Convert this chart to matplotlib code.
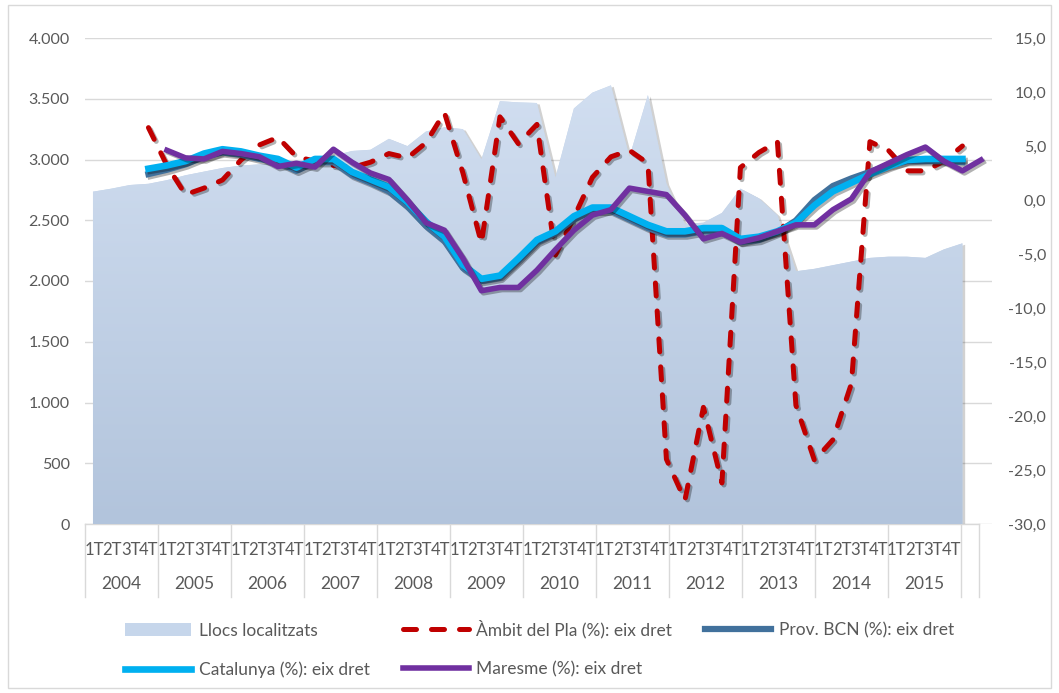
import numpy as np
import matplotlib.pyplot as plt
import matplotlib.patheffects as pe
from matplotlib.patches import Patch, Polygon, Rectangle
from matplotlib.lines import Line2D
from matplotlib.colors import LinearSegmentedColormap

plt.rcParams['font.family'] = ['Lato', 'DejaVu Sans']

# Dades (trimestres 2004 1T - 2015 4T)
anys = [str(a) for a in range(2004, 2016)]
trimestres = ['1T', '2T', '3T', '4T']

llocs = [2735, 2760, 2790, 2800, 2830, 2870, 2900, 2930, 2950, 2960, 2970, 2990,
         3010, 3030, 3070, 3080, 3170, 3110, 3230, 3265, 3250, 3000, 3480, 3470,
         3465, 2850, 3420, 3550, 3610, 3020, 3530, 2800, 2470, 2480, 2560, 2760,
         2680, 2540, 2080, 2100, 2130, 2160, 2190, 2200, 2200, 2190, 2260, 2310]

# series en % (eix dret); comencen en trimestres diferents
ambit = [6.7, 3.2, 0.5, 1.1, 1.85, 3.7, 5.1, 5.8, 4.0, 3.6, 3.2, 3.0, 3.5, 4.3, 3.9,
         5.3, 8.1, 2.5, -4.0, 7.7, 5.2, 7.0, -5.1, -1.6, 2.1, 4.0, 4.6, 3.4, -24.0,
         -27.8, -19.2, -26.2, 3.0, 4.4, 5.4, -19.0, -24.1, -22.2, -17.0, 5.4, 4.6,
         2.7, 2.7, 3.6, 5.0]
prov_bcn = [2.4, 2.8, 3.3, 4.0, 4.4, 4.2, 3.8, 3.5, 2.7, 3.5, 3.5, 2.3, 1.6, 0.8,
            -0.6, -2.4, -3.8, -6.3, -7.5, -7.2, -5.6, -3.9, -3.1, -1.8, -1.0, -1.0,
            -1.8, -2.6, -3.2, -3.2, -2.9, -2.9, -3.9, -3.7, -3.0, -1.9, 0.0, 1.3,
            2.0, 2.6, 3.2, 3.6, 3.6, 3.6, 3.5]
catalunya = [2.9, 3.2, 3.6, 4.3, 4.7, 4.5, 4.1, 3.8, 3.0, 3.8, 3.8, 2.6, 1.9, 1.2,
             -0.2, -2.0, -3.4, -6.0, -7.3, -7.0, -5.4, -3.7, -2.9, -1.5, -0.7, -0.7,
             -1.5, -2.3, -2.9, -2.9, -2.6, -2.6, -3.6, -3.4, -2.9, -2.1, -0.5, 0.8,
             1.6, 2.4, 3.1, 3.7, 3.8, 3.8, 3.8]
maresme = [4.6, 3.9, 3.8, 4.5, 4.3, 4.0, 3.1, 3.4, 3.05, 4.7, 3.5, 2.5, 1.9, 0.0,
           -2.1, -2.8, -5.4, -8.4, -8.1, -8.1, -6.5, -4.6, -2.8, -1.4, -0.9, 1.1,
           0.8, 0.5, -1.4, -3.6, -3.1, -3.9, -3.5, -2.9, -2.3, -2.3, -0.9, 0.1, 2.6,
           3.4, 4.2, 4.9, 3.6, 2.7, 3.7]

x_llocs = np.arange(len(llocs))
x_ambit = np.arange(3, 3 + len(ambit))
x_prov = np.arange(3, 3 + len(prov_bcn))
x_cat = np.arange(3, 3 + len(catalunya))
x_mar = np.arange(4, 4 + len(maresme))

gris = '#595959'
graella = '#D9D9D9'

fig = plt.figure(figsize=(10.59, 6.93), dpi=100)
ax = fig.add_axes([85 / 1059, 169 / 693, 907 / 1059, 486 / 693])
ax2 = ax.twinx()

# Àrea amb degradat
verts = [(x_llocs[0], 0)] + list(zip(x_llocs, llocs)) + [(x_llocs[-1], 0)]
area = Polygon(verts, closed=True, fc='#C6D6EB', ec='none', zorder=2)
area.set_path_effects([pe.SimplePatchShadow(offset=(2, -1), shadow_rgbFace='k', alpha=0.18),
                       pe.Normal()])
ax.add_patch(area)
cmap = LinearSegmentedColormap.from_list('g', ['#B2C4DC', '#D2DFF1'])
grad = np.linspace(0, 1, 256).reshape(-1, 1)
im = ax.imshow(grad, extent=[x_llocs[0], x_llocs[-1], 0, 3700], origin='lower',
               aspect='auto', cmap=cmap, zorder=2.1)
im.set_clip_path(area)

ax.set_xlim(-0.43, 48.6)
ax.set_ylim(0, 4000)
ax.set_yticks(range(0, 4001, 500))
ax.set_yticklabels([f"{v:,}".replace(',', '.') for v in range(0, 4001, 500)])
ax.yaxis.grid(True, color=graella, lw=1)
ax.set_axisbelow(True)
ax.tick_params(axis='y', length=0, pad=11, labelsize=11.5, labelcolor=gris)
ax.set_xticks([])

ax2.set_ylim(-30, 15)
ax2.set_yticks(range(-30, 16, 5))
ax2.set_yticklabels([f"{v:.1f}".replace('.', ',') for v in range(-30, 16, 5)])
ax2.tick_params(axis='y', length=0, pad=39, labelsize=11.5, labelcolor=gris)
for t in ax2.get_yticklabels():
    t.set_horizontalalignment('right')

for a in (ax, ax2):
    for s in a.spines.values():
        s.set_visible(False)

ombra = [pe.SimpleLineShadow(offset=(1.5, -1.5), shadow_color='k', alpha=0.3), pe.Normal()]
ax2.plot(x_ambit, ambit, color='#C00000', lw=3.6, dashes=(2.6, 3.0),
         dash_capstyle='round', path_effects=ombra)
ax2.plot(x_prov, prov_bcn, color='#41719C', lw=4.5, path_effects=ombra)
ax2.plot(x_cat, catalunya, color='#00B0F0', lw=4.8, path_effects=ombra)
ax2.plot(x_mar, maresme, color='#7030A0', lw=4.0, path_effects=ombra)

# Eix de categories (trimestres i anys)
x0 = -0.43
amp = 0.986
tr = ax.get_xaxis_transform()
n_cat = len(anys) * 4 + 1
for j in range(len(anys) * 4):
    ax.text(x0 + (j + 0.5) * amp, -0.054, trimestres[j % 4], transform=tr,
            ha='center', va='center', fontsize=12, color=gris)
for k, a in enumerate(anys):
    ax.text(x0 + (4 * k + 2) * amp, -0.124, a, transform=tr,
            ha='center', va='center', fontsize=12.5, color=gris)
limits = [x0 + 4 * k * amp for k in range(len(anys) + 1)] + [x0 + n_cat * amp]
for xb in limits:
    ax.plot([xb, xb], [0, -0.15], transform=tr, color=graella, lw=1, clip_on=False)
ax.plot([x0, x0 + n_cat * amp], [0, 0], transform=tr, color=graella, lw=1, clip_on=False)

# Llegenda
handles = [
    Patch(facecolor='#C6D6EB', edgecolor='none'),
    Line2D([], [], color='#00B0F0', lw=4.8),
    Line2D([], [], color='#C00000', lw=3.6, dashes=(2.6, 3.0), dash_capstyle='round'),
    Line2D([], [], color='#7030A0', lw=4.0),
    Line2D([], [], color='#41719C', lw=4.5),
]
labels = ['Llocs localitzats', 'Catalunya (%): eix dret', 'Àmbit del Pla (%): eix dret',
          'Maresme (%): eix dret', 'Prov. BCN (%): eix dret']
fig.legend(handles, labels, ncol=3, loc='upper left',
           bbox_to_anchor=(125 / 1059, 1 - 620 / 693), frameon=False, fontsize=12.5,
           handlelength=3.8, handletextpad=0.45, columnspacing=1.9, labelspacing=1.3,
           borderpad=0, borderaxespad=0, labelcolor=gris)

fig.patches.append(Rectangle((8 / 1059, 5 / 693), 1043 / 1059, 683 / 693,
                             transform=fig.transFigure, fill=False, ec=graella, lw=1))

fig.savefig('out.png', dpi=100)
